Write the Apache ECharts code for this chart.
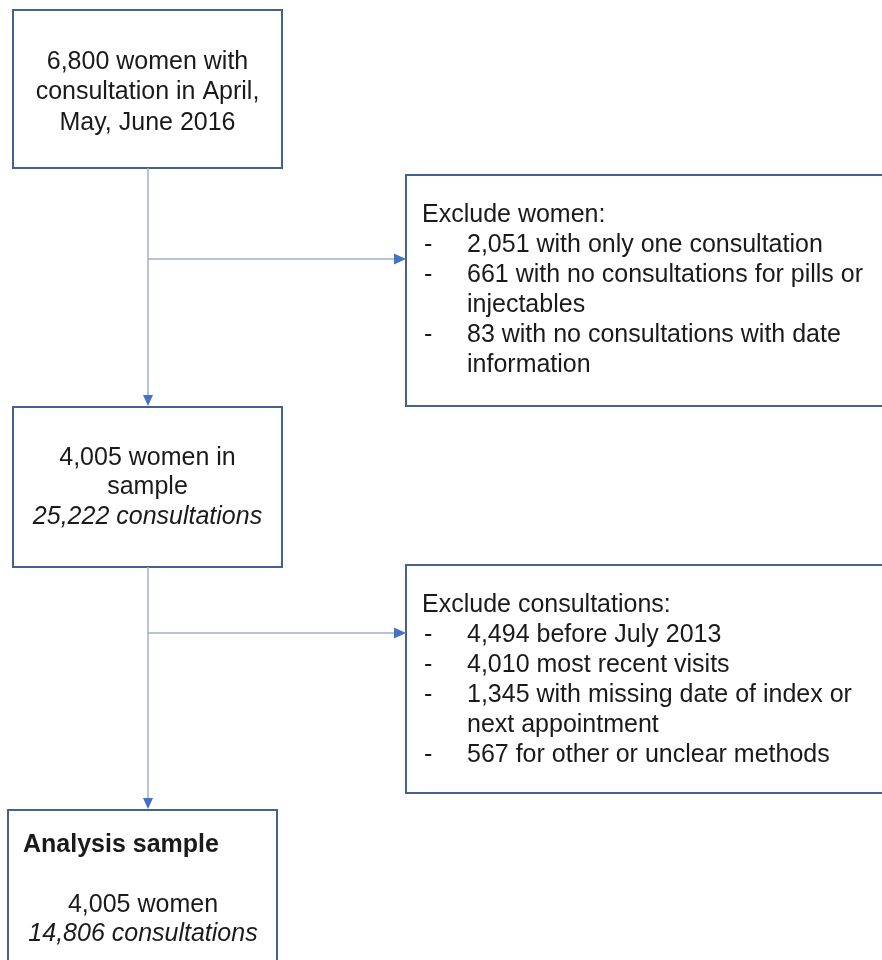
<!DOCTYPE html>
<html>
<head>
<meta charset="utf-8">
<script src="https://cdn.jsdelivr.net/npm/echarts@6/dist/echarts.min.js"></script>
<style>
html,body{margin:0;padding:0;background:#fff;}
#chart{width:882px;height:960px;}
</style>
</head>
<body>
<div id="chart"></div>
<script>
// ---- content (text) ----
var box1Lines = ["6,800 women with", "consultation in April,", "May, June 2016"];
var excludeWomenTitle = "Exclude women:";
var excludeWomenItems = [
  ["2,051 with only one consultation"],
  ["661 with no consultations for pills or", "injectables"],
  ["83 with no consultations with date", "information"]
];
var box3Lines = ["4,005 women in", "sample"];
var box3Italic = "25,222 consultations";
var excludeConsTitle = "Exclude consultations:";
var excludeConsItems = [
  ["4,494 before July 2013"],
  ["4,010 most recent visits"],
  ["1,345 with missing date of index or", "next appointment"],
  ["567 for other or unclear methods"]
];
var box5Title = "Analysis sample";
var box5Lines = ["4,005 women"];
var box5Italic = "14,806 consultations";

// ---- layout ----
var FONT = '"Liberation Sans", Arial, sans-serif';
var FS = 25;
var PITCH = 30;
var MID = 8; // baseline -> middle offset
var BORDER = '#45628f';
var LINE = '#9cb1cc';
var ARROW = '#4472c4';
var TEXTC = '#1a1a1a';

var boxes = [
  {x: 13, y: 10, w: 269, h: 158},
  {x: 406, y: 175, w: 490, h: 231},
  {x: 13, y: 407, w: 269, h: 160},
  {x: 406, y: 565, w: 490, h: 228},
  {x: 8, y: 810, w: 269, h: 170}
];

var els = [];
boxes.forEach(function (b) {
  els.push({type: 'rect', shape: {x: b.x, y: b.y, width: b.w, height: b.h},
    style: {fill: '#fff', stroke: BORDER, lineWidth: 2}, z: 1});
});

function txt(s, x, base, align, italic, bold) {
  els.push({type: 'text', x: x, y: base - MID, z: 5,
    style: {text: s, fill: TEXTC, fontFamily: FONT, fontSize: FS,
      fontStyle: italic ? 'italic' : 'normal', fontWeight: bold ? 'bold' : 'normal',
      align: align, verticalAlign: 'middle'}});
}
function line(x1, y1, x2, y2) {
  els.push({type: 'line', shape: {x1: x1, y1: y1, x2: x2, y2: y2}, style: {stroke: LINE, lineWidth: 1.5}, z: 2});
}
function arrowDown(x, tipY) {
  els.push({type: 'polygon', shape: {points: [[x - 5, tipY - 11], [x + 5, tipY - 11], [x, tipY]]}, style: {fill: ARROW}, z: 3});
}
function arrowRight(tipX, y) {
  els.push({type: 'polygon', shape: {points: [[tipX - 12, y - 5.5], [tipX - 12, y + 5.5], [tipX, y]]}, style: {fill: ARROW}, z: 3});
}

// box 1 text
box1Lines.forEach(function (s, i) { txt(s, 147.5, 70 + i * 30.5, 'center'); });

// list boxes
function listBox(title, items, x0, base0) {
  txt(title, x0, base0, 'left');
  var k = 1;
  items.forEach(function (it) {
    txt('-', x0 + 2, base0 + k * PITCH, 'left');
    it.forEach(function (s) { txt(s, x0 + 45, base0 + k * PITCH, 'left'); k++; });
  });
}
listBox(excludeWomenTitle, excludeWomenItems, 422, 223);
listBox(excludeConsTitle, excludeConsItems, 422, 613);

// box 3
box3Lines.forEach(function (s, i) { txt(s, 147.5, 466 + i * 29.5, 'center'); });
txt(box3Italic, 147.5, 525, 'center', true);

// box 5
txt(box5Title, 23, 853, 'left', false, true);
box5Lines.forEach(function (s, i) { txt(s, 143, 913 + i * 29.5, 'center'); });
txt(box5Italic, 143, 942, 'center', true);

// connectors
line(148, 168, 148, 400);
line(148, 259, 398, 259);
arrowRight(406, 259);
arrowDown(148, 406);
line(148, 567, 148, 802);
line(148, 633, 398, 633);
arrowRight(406, 633);
arrowDown(148, 809);

var chart = echarts.init(document.getElementById('chart'), null, {renderer: 'canvas'});
chart.setOption({
  animation: false,
  backgroundColor: '#fff',
  graphic: {elements: els}
});
</script>
</body>
</html>
